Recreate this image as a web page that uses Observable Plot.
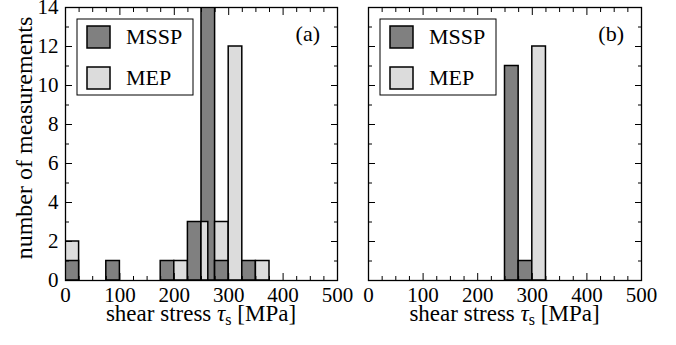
<!DOCTYPE html>
<html><head><meta charset="utf-8">
<script src="https://cdn.jsdelivr.net/npm/d3@7"></script>
<script src="https://cdn.jsdelivr.net/npm/@observablehq/plot@0.6"></script>
<style>
body{margin:0;background:#fff;}
#wrap{position:relative;width:676px;height:345px;display:flex;}
#wrap svg{overflow:visible;background:transparent;}
</style></head><body><div id="wrap"></div>
<script>
// ---- data (drawing order matters: later bars overlay earlier ones) ----
const seriesNames = ["MSSP", "MEP"];
const seriesColors = ["#808080", "#dcdcdc"];

// panel (a)
const aLo     = [0, 0, 75, 175, 200, 225, 250, 250, 275, 275, 300, 325, 350];
const aHi     = [25, 25, 100, 200, 225, 250, 275, 262.5, 300, 300, 325, 350, 375];
const aCount  = [2, 1, 1, 1, 1, 3, 14, 3, 3, 1, 12, 1, 1];
const aSeries = ["MEP", "MSSP", "MSSP", "MSSP", "MEP", "MSSP", "MSSP", "MEP", "MEP", "MSSP", "MEP", "MSSP", "MEP"];

// panel (b)
const bLo     = [250, 275, 300];
const bHi     = [275, 300, 325];
const bCount  = [11, 1, 12];
const bSeries = ["MSSP", "MSSP", "MEP"];

// ticks
const xTickValues = [0, 100, 200, 300, 400, 500];
const xMinorTicks = [25, 50, 75, 125, 150, 175, 225, 250, 275, 325, 350, 375, 425, 450, 475];
const yTickValues = [0, 2, 4, 6, 8, 10, 12, 14];
const yMinorTicks = [1, 3, 5, 7, 9, 11, 13];

const FONT = "Liberation Serif, Times New Roman, Times, DejaVu Serif, serif";
const H = 345, MT = 7, MB = 65;

function panel({lo, hi, count, series, width, marginLeft, marginRight, showY, tag}) {
  const data = lo.map((d, i) => ({lo: d, hi: hi[i], n: count[i], s: series[i]}));
  const tickOpts = {label: null, text: null, stroke: "black", strokeWidth: 1};
  const marks = [
    Plot.rectY(data, {x1: "lo", x2: "hi", y1: 0, y2: "n", fill: "s", stroke: "black", strokeWidth: 1.5, clip: true}),
    Plot.frame({stroke: "black", strokeWidth: 1.3}),
    Plot.axisX({...tickOpts, anchor: "bottom", ticks: xTickValues, tickSize: -7}),
    Plot.axisX({...tickOpts, anchor: "bottom", ticks: xMinorTicks, tickSize: -4}),
    Plot.axisX({...tickOpts, anchor: "top", ticks: xTickValues, tickSize: -7}),
    Plot.axisX({...tickOpts, anchor: "top", ticks: xMinorTicks, tickSize: -4}),
    Plot.axisY({...tickOpts, anchor: "left", ticks: yTickValues, tickSize: -7}),
    Plot.axisY({...tickOpts, anchor: "left", ticks: yMinorTicks, tickSize: -4}),
    Plot.axisY({...tickOpts, anchor: "right", ticks: yTickValues, tickSize: -7}),
    Plot.axisY({...tickOpts, anchor: "right", ticks: yMinorTicks, tickSize: -4}),
    Plot.axisX({anchor: "bottom", ticks: xTickValues, tickSize: 0, tickPadding: 7, label: null, fontSize: 21, fontFamily: FONT})
  ];
  if (showY) marks.push(Plot.axisY({anchor: "left", ticks: yTickValues, tickSize: 0, tickPadding: 7, label: null, fontSize: 21, fontFamily: FONT}));
  const p = Plot.plot({
    width, height: H, marginLeft, marginRight, marginTop: MT, marginBottom: MB,
    x: {domain: [0, 500]},
    y: {domain: [0, 14]},
    color: {domain: seriesNames, range: seriesColors},
    style: {fontFamily: FONT, fontSize: "21px", color: "black", background: "transparent", overflow: "visible"},
    marks
  });
  const svg = d3.select(p);
  const L = marginLeft, R = width - marginRight;
  // legend
  const lg = svg.append("g").attr("text-anchor", "start");
  lg.append("rect").attr("x", L + 12).attr("y", 19).attr("width", 116).attr("height", 76)
    .attr("fill", "white").attr("stroke", "black").attr("stroke-width", 1);
  seriesNames.forEach((name, i) => {
    const y0 = 26 + i * 41;
    lg.append("rect").attr("x", L + 22).attr("y", y0).attr("width", 23).attr("height", 22)
      .attr("fill", seriesColors[i]).attr("stroke", "black").attr("stroke-width", 1.5);
    lg.append("text").attr("x", L + 61).attr("y", y0 + 18).attr("text-anchor", "start")
      .style("font-family", FONT).attr("font-size", 22).attr("fill", "black").text(name);
  });
  // panel tag
  svg.append("text").attr("x", R - 17).attr("y", 41).attr("text-anchor", "end")
    .style("font-family", FONT).attr("font-size", 22).attr("fill", "black").text(tag);
  // x label
  const xl = svg.append("text").attr("x", (L + R) / 2).attr("y", 321).attr("text-anchor", "middle")
    .style("font-family", FONT).attr("font-size", 23).attr("fill", "black");
  xl.append("tspan").text("shear stress ");
  xl.append("tspan").attr("font-style", "italic").text("τ");
  xl.append("tspan").attr("font-size", 16).attr("dy", 4).text("s");
  xl.append("tspan").attr("dy", -4).text(" [MPa]");
  if (showY) {
    svg.append("text").attr("transform", "translate(32,138) rotate(-90)").attr("text-anchor", "middle")
      .style("font-family", FONT).attr("font-size", 24).attr("fill", "black").text("number of measurements");
  }
  return p;
}

const wrap = document.getElementById("wrap");
wrap.appendChild(panel({lo: aLo, hi: aHi, count: aCount, series: aSeries, width: 345, marginLeft: 65, marginRight: 8, showY: true, tag: "(a)"}));
wrap.appendChild(panel({lo: bLo, hi: bHi, count: bCount, series: bSeries, width: 331, marginLeft: 23, marginRight: 35, showY: false, tag: "(b)"}));
</script>
</body></html>
